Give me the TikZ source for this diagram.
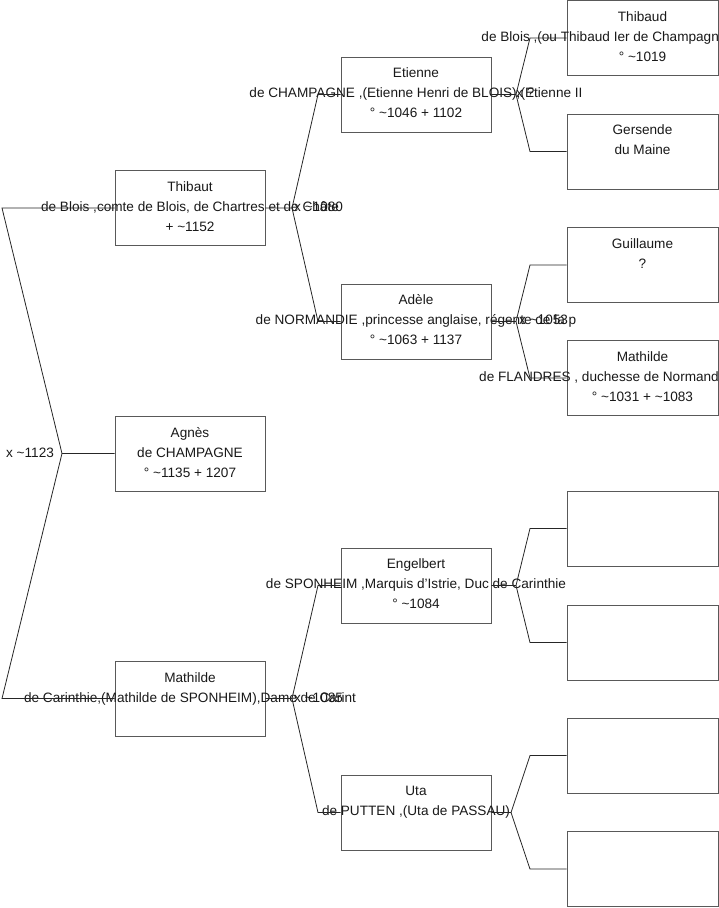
\documentclass[tikz,border=0pt]{standalone}
\usepackage{fontspec}
\setmainfont{Liberation Sans}
\newcommand{\tld}{\char"007E\relax}
\begin{document}
\begin{tikzpicture}[x=1pt,y=-1pt,
  box/.style={draw=black!65, line width=0.9pt, fill=white, minimum width=150pt, minimum height=75pt, inner sep=0pt},
  boxr/.style={box, minimum width=151pt},
  ln/.style={font=\fontsize{13.6}{16}\selectfont, anchor=base, inner sep=0pt, text=black!90},
  lnw/.style={ln, anchor=base west},
  con/.style={draw=black!85, line width=0.8pt}]
\useasboundingbox (0,0) rectangle (719,908);

% ---------- boxes ----------
\node[box] (thibaut) at (190,208) {};
\node[box] (agnes) at (190,453.5) {};
\node[box] (mathildeC) at (190,698.5) {};

\node[box] (etienne) at (416,94.5) {};
\node[box] (adele) at (416,321.5) {};
\node[box] (engelbert) at (416,585.5) {};
\node[box] (uta) at (416,812.5) {};

\node[boxr] (thibaud) at (642.5,38) {};
\node[boxr] (gersende) at (642.5,151.5) {};
\node[boxr] (guillaume) at (642.5,265) {};
\node[boxr] (mathildeF) at (642.5,378) {};
\node[boxr] (e1) at (642.5,528.5) {};
\node[boxr] (e2) at (642.5,642.5) {};
\node[boxr] (e3) at (642.5,755.5) {};
\node[boxr] (e4) at (642.5,869) {};

% ---------- texts ----------
\node[ln] (t1a) at (190,191) {Thibaut};
\node[ln] (t1b) at (190,211) {de Blois ,comte de Blois, de Chartres et de Châte};
\node[ln] (t1c) at (190,231) {+ \tld1152};

\node[ln] (a1a) at (190,437.5) {Agnès};
\node[ln] (a1b) at (190,457.5) {de CHAMPAGNE};
\node[ln] (a1c) at (190,477.5) {° \tld1135 + 1207};

\node[ln] (m1a) at (190,682.5) {Mathilde};
\node[ln] (m1b) at (190,702.5) {de Carinthie,(Mathilde de SPONHEIM),Dame de Carint};

\node[ln] (et1) at (416,77) {Etienne};
\node[ln] (et2) at (416,97.5) {de CHAMPAGNE ,(Etienne Henri de BLOIS),(Etienne II};
\node[ln] (et3) at (416,117.5) {° \tld1046 + 1102};

\node[ln] (ad1) at (416,304.5) {Adèle};
\node[ln] (ad2) at (416,324.5) {de NORMANDIE ,princesse anglaise, régente de la p};
\node[ln] (ad3) at (416,344.5) {° \tld1063 + 1137};

\node[ln] (en1) at (416,568) {Engelbert};
\node[ln] (en2) at (416,588.5) {de SPONHEIM ,Marquis d'Istrie, Duc de Carinthie};
\node[ln] (en3) at (416,608.5) {° \tld1084};

\node[ln] (ut1) at (416,795.5) {Uta};
\node[ln] (ut2) at (416,815.5) {de PUTTEN ,(Uta de PASSAU)};

\node[ln] (th1) at (642.5,21) {Thibaud};
\node[ln] (th2) at (642.5,41) {de Blois ,(ou Thibaud Ier de Champagne),comte de B};
\node[ln] (th3) at (642.5,61) {° \tld1019};

\node[ln] (ge1) at (642.5,134) {Gersende};
\node[ln] (ge2) at (642.5,154) {du Maine};

\node[ln] (gu1) at (642.5,248) {Guillaume};
\node[ln] (gu2) at (642.5,268) {?};

\node[ln] (mf1) at (642.5,361) {Mathilde};
\node[ln] (mf2) at (642.5,381) {de FLANDRES , duchesse de Normandie, reine d'Ang};
\node[ln] (mf3) at (642.5,401) {° \tld1031 + \tld1083};

% ---------- marriage labels ----------
\node[ln] (x1) at (30,457.5) {x \tld1123};
\node[lnw] (x2) at (294,211) {x \tld1080};
\node[lnw] (x3) at (516,97.5) {x ?};
\node[lnw] (x4) at (519,324.5) {x \tld1053};
\node[lnw] (x5) at (294,702.5) {x \tld1085};

% ---------- forks ----------
\coordinate (f0) at (62,453.5);
\coordinate (f0a) at (2,208);
\coordinate (f0b) at (2,698.5);
\draw[con] (agnes.west) -- (f0) -- (f0a) -- (thibaut.west);
\draw[con] (f0) -- (f0b) -- (mathildeC.west);

\coordinate (f1) at (292,208);
\coordinate (f1a) at (318,94.5);
\coordinate (f1b) at (318,321.5);
\draw[con] (thibaut.east) -- (f1) -- (f1a) -- (etienne.west);
\draw[con] (f1) -- (f1b) -- (adele.west);

\coordinate (f2) at (292,698.5);
\coordinate (f2a) at (318,585.5);
\coordinate (f2b) at (318,812.5);
\draw[con] (mathildeC.east) -- (f2) -- (f2a) -- (engelbert.west);
\draw[con] (f2) -- (f2b) -- (uta.west);

\coordinate (f3) at (516,94.5);
\coordinate (f3a) at (530,38);
\coordinate (f3b) at (530,151.5);
\draw[con] (etienne.east) -- (f3) -- (f3a) -- (thibaud.west);
\draw[con] (f3) -- (f3b) -- (gersende.west);

\coordinate (f4) at (516,321.5);
\coordinate (f4a) at (530,265);
\coordinate (f4b) at (530,378);
\draw[con] (adele.east) -- (f4) -- (f4a) -- (guillaume.west);
\draw[con] (f4) -- (f4b) -- (mathildeF.west);

\coordinate (f5) at (516,585.5);
\coordinate (f5a) at (530,528.5);
\coordinate (f5b) at (530,642.5);
\draw[con] (engelbert.east) -- (f5) -- (f5a) -- (e1.west);
\draw[con] (f5) -- (f5b) -- (e2.west);

\coordinate (f6) at (511,812.5);
\coordinate (f6a) at (530,755.5);
\coordinate (f6b) at (530,869);
\draw[con] (uta.east) -- (f6) -- (f6a) -- (e3.west);
\draw[con] (f6) -- (f6b) -- (e4.west);
\end{tikzpicture}
\end{document}
